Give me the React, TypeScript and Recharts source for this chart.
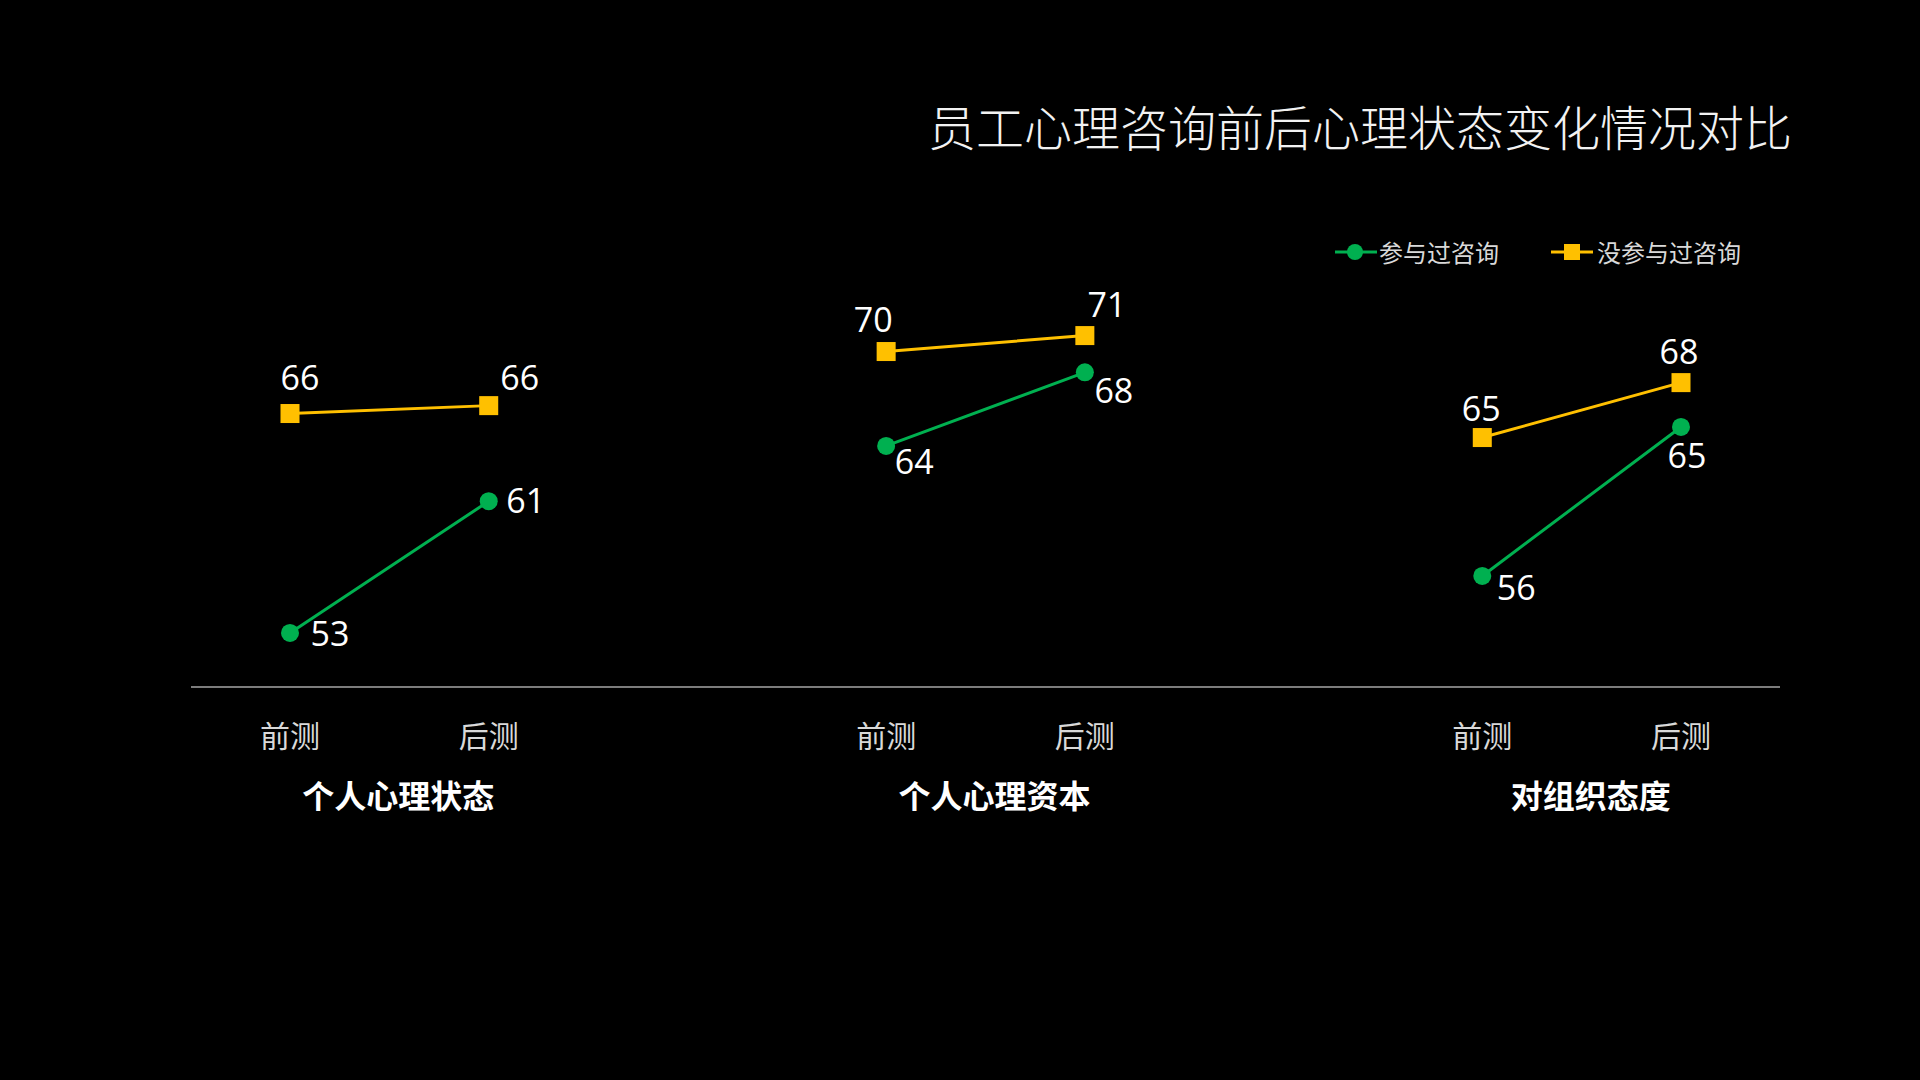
import React from "react";
import { LineChart, Line, XAxis, YAxis } from "recharts";

const STAGES = ["前测", "后测"];
const GROUPS = ["个人心理状态", "个人心理资本", "对组织态度"];
const SERIES_NAMES = ["参与过咨询", "没参与过咨询"];
// values per point, in group order (前测, 后测)
const CONSULTED = [52.92, 60.76, 64.05, 68.43, 56.31, 65.18];
const NOT_CONSULTED = [65.98, 66.45, 69.67, 70.62, 64.55, 67.82];

// where each value label sits relative to its point (dx, dy)
const CONSULTED_LABEL_POS = [[40, 1], [37, 0], [28, 16], [29, 19], [34, 12], [6, 29]];
const NOT_CONSULTED_LABEL_POS = [[10, -36], [31, -28], [-13, -32], [22, -31], [-1, -29], [-2, -31]];

const GREEN = "#00B050";
const YELLOW = "#FFC000";
const CJK = "'Noto Sans CJK SC', sans-serif";
const NUM = "'Open Sans', sans-serif";

const MARGIN = { top: 262, right: 140, bottom: 273, left: 191 };
const PAD = 99;

type Row = {
  stage: string;
  group: string;
  pt: number | null;
  consulted: number | null;
  notConsulted: number | null;
};

const data: Row[] = [];
GROUPS.forEach((group, g) => {
  STAGES.forEach((stage, s) => {
    const i = g * STAGES.length + s;
    data.push({ stage, group, pt: i, consulted: CONSULTED[i], notConsulted: NOT_CONSULTED[i] });
  });
  if (g < GROUPS.length - 1) {
    data.push({ stage: "", group: "", pt: null, consulted: null, notConsulted: null });
  }
});

const STEP = (1920 - MARGIN.left - MARGIN.right - 2 * PAD) / (data.length - 1);

const makeLabel = (offsets: number[][]) => (props: any) => {
  const { x, y, index, value } = props;
  const row = data[index];
  if (value == null || !row || row.pt == null || x == null || y == null) return <g key={`l-${index}`} />;
  const [dx, dy] = offsets[row.pt];
  return (
    <text
      key={`l-${index}`}
      x={x + dx}
      y={y + dy + 12}
      textAnchor="middle"
      fill="#ffffff"
      fontSize={34}
      fontFamily={NUM}
    >
      {Math.round(value)}
    </text>
  );
};

const SquareDot = (props: any) => {
  const { cx, cy, index } = props;
  if (cx == null || cy == null) return <g key={`sq-${index}`} />;
  return <rect key={`sq-${index}`} x={cx - 9.5} y={cy - 9.5} width={19} height={19} fill={YELLOW} />;
};

const StageTick = (props: any) => {
  const { x, y, payload } = props;
  const row = data[payload.index ?? props.index];
  if (!row || !row.stage) return <g />;
  return (
    <g>
      <text x={x} y={y + 47} textAnchor="middle" dominantBaseline="central" fill="#d9d9d9" fontSize={30} fontFamily={CJK}>
        {row.stage}
      </text>
      {row.stage === STAGES[0] && (
        <text
          x={x + STEP / 2 + 9}
          y={y + 107}
          textAnchor="middle"
          dominantBaseline="central"
          fill="#ffffff"
          fontSize={32}
          fontWeight="bold"
          fontFamily={CJK}
        >
          {row.group}
        </text>
      )}
    </g>
  );
};

export default function App() {
  return (
    <div
      style={{
        position: "fixed",
        left: 0,
        top: 0,
        width: 1920,
        height: 1080,
        background: "#000",
        overflow: "hidden",
      }}
    >
      <div
        style={{
          position: "absolute",
          right: 128,
          top: 101,
          fontFamily: CJK,
          fontSize: 48,
          lineHeight: "48px",
          fontWeight: 300,
          color: "#f2f2f2",
          whiteSpace: "nowrap",
        }}
      >
        员工心理咨询前后心理状态变化情况对比
      </div>

      <div
        style={{
          position: "absolute",
          left: 1335,
          top: 240,
          display: "flex",
          alignItems: "center",
          fontFamily: CJK,
          fontSize: 24,
          lineHeight: "24px",
          color: "#d9d9d9",
          whiteSpace: "nowrap",
        }}
      >
        <svg width={42} height={24}>
          <line x1={0} y1={12} x2={42} y2={12} stroke={GREEN} strokeWidth={3} />
          <circle cx={20} cy={12} r={8} fill={GREEN} />
        </svg>
        <span style={{ marginLeft: 2 }}>{SERIES_NAMES[0]}</span>
        <svg width={42} height={24} style={{ marginLeft: 52 }}>
          <line x1={0} y1={12} x2={42} y2={12} stroke={YELLOW} strokeWidth={3} />
          <rect x={13} y={4} width={16} height={16} fill={YELLOW} />
        </svg>
        <span style={{ marginLeft: 4 }}>{SERIES_NAMES[1]}</span>
      </div>

      <LineChart width={1920} height={1080} data={data} margin={MARGIN}>
        <XAxis
          dataKey="stage"
          interval={0}
          tickSize={0}
          tickMargin={0}
          tickLine={false}
          axisLine={{ stroke: "#a6a6a6", strokeWidth: 1.5 }}
          padding={{ left: PAD, right: PAD }}
          height={120}
          tick={<StageTick />}
        />
        <YAxis hide domain={[49.7, 75]} />
        <Line
          type="linear"
          dataKey="consulted"
          name={SERIES_NAMES[0]}
          stroke={GREEN}
          strokeWidth={3}
          dot={{ r: 9, fill: GREEN, stroke: "none" }}
          activeDot={false}
          label={makeLabel(CONSULTED_LABEL_POS)}
          isAnimationActive={false}
        />
        <Line
          type="linear"
          dataKey="notConsulted"
          name={SERIES_NAMES[1]}
          stroke={YELLOW}
          strokeWidth={3}
          dot={<SquareDot />}
          activeDot={false}
          label={makeLabel(NOT_CONSULTED_LABEL_POS)}
          isAnimationActive={false}
        />
      </LineChart>
    </div>
  );
}
